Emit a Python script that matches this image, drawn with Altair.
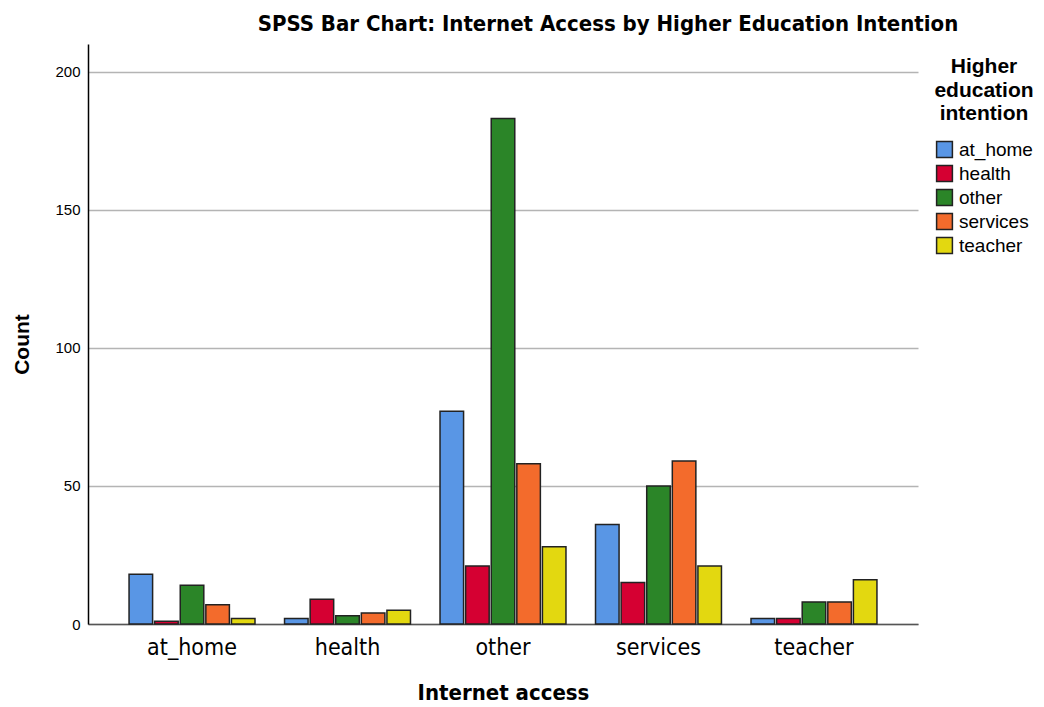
import altair as alt
import pandas as pd

internet = ["at_home", "health", "other", "services", "teacher"]
higher = ["at_home", "health", "other", "services", "teacher"]
counts = {
    "at_home":  [18, 2, 77, 36, 2],
    "health":   [1, 9, 21, 15, 2],
    "other":    [14, 3, 183, 50, 8],
    "services": [7, 4, 58, 59, 8],
    "teacher":  [2, 5, 28, 21, 16],
}
colors = ["#5996e5", "#d50032", "#2b8528", "#f36b2c", "#e3d810"]

rows = []
for h in higher:
    for i, cat in enumerate(internet):
        rows.append({"Internet access": cat, "Higher education intention": h, "Count": counts[h][i]})
df = pd.DataFrame(rows)

narrow = "Liberation Sans Narrow, Arial Narrow, DejaVu Sans Condensed, Liberation Sans"
sans = "Liberation Sans, Arial, Helvetica"

chart = alt.Chart(df).mark_bar(stroke="#222222", strokeWidth=1.5).encode(
    x=alt.X("Internet access:N", sort=internet,
            scale=alt.Scale(paddingInner=0.19, paddingOuter=0.264),
            axis=alt.Axis(labelAngle=0, labelFont=narrow, labelFontSize=23, labelColor="#000",
                          labelPadding=12, ticks=False, domainColor="#555555", domainWidth=1.5,
                          titleFont=narrow, titleFontSize=22, titleFontWeight="bold", titleColor="#000",
                          titlePadding=23)),
    xOffset=alt.XOffset("Higher education intention:N", sort=higher,
                        scale=alt.Scale(paddingInner=0.08)),
    y=alt.Y("Count:Q", scale=alt.Scale(domain=[0, 210], nice=False),
            axis=alt.Axis(values=[0, 50, 100, 150, 200], labelFont=sans, labelFontSize=15, labelColor="#000",
                          ticks=False, labelPadding=8, domainColor="#000", domainWidth=1.5,
                          grid=True, gridColor="#b4b4b4", gridWidth=1.3,
                          titleFont=sans, titleFontSize=21, titleFontWeight="bold", titleColor="#000",
                          titlePadding=22, titleY=300)),
    color=alt.Color("Higher education intention:N", sort=higher,
                    scale=alt.Scale(domain=higher, range=colors),
                    legend=alt.Legend(title=["Higher", "education", "intention"], orient="none",
                                      legendX=846, legendY=12,
                                      titleFont=sans, titleFontSize=21, titleFontWeight="bold", titleColor="#000",
                                      titleAnchor="middle", titleAlign="center", titleLineHeight=23.5,
                                      titlePadding=16,
                                      labelFont=sans, labelFontSize=19, labelColor="#000",
                                      symbolType="square", symbolSize=250, symbolStrokeColor="#222",
                                      symbolStrokeWidth=1.5, symbolOpacity=1, rowPadding=1, labelOffset=5)),
).properties(
    width=830, height=580,
    title=alt.TitleParams("SPSS Bar Chart: Internet Access by Higher Education Intention",
                          font=narrow, fontSize=22, fontWeight="bold", color="#000",
                          anchor="middle", frame="group", dx=105, offset=8),
    autosize=alt.AutoSizeParams(type="none"),
    padding={"left": 80, "top": 36, "right": 118, "bottom": 82},
).configure(background="white").configure_view(stroke=None)

chart.save("out.html", embed_options={"renderer": "svg", "actions": False})
